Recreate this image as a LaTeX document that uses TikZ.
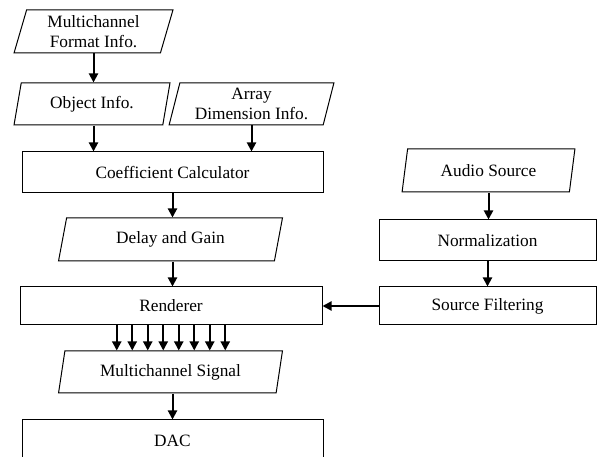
\documentclass[tikz,border=0pt]{standalone}
\usepackage{fontspec}
\setmainfont{Liberation Serif}
\usetikzlibrary{arrows.meta, positioning, shapes.geometric, calc}

\begin{document}
\begin{tikzpicture}[
            x=1pt, y=-1pt,
            base/.style={draw, line width=1pt, inner sep=0pt, align=center,
                font=\fontsize{17.3}{20}\selectfont},
            iobox/.style={base, trapezium, trapezium left angle=75,
                trapezium right angle=105, trapezium stretches=true},
            procbox/.style={base, rectangle},
            arrow/.style={-{Triangle[length=9pt, width=9pt]}, line width=2pt}
        ]
        \useasboundingbox (0,0) rectangle (598,457);
        \clip (0,0) rectangle (598,457);

        % --- left column ---
        \node[iobox, minimum width=159pt, minimum height=43pt] (mfi) at (93.5, 31.5) {Multichannel\\Format Info.};
        \node[iobox, minimum width=157pt, minimum height=42pt] (obj) at (92, 104) {Object Info.};
        \node[iobox, minimum width=165pt, minimum height=42pt] (arr) at (251.5, 104) {Array\\Dimension Info.};
        \node[procbox, minimum width=301pt, minimum height=41pt] (coef) at (172.5, 172.5) {Coefficient Calculator};
        \node[iobox, minimum width=224pt, minimum height=43pt] (delay) at (170.5, 239.5) {Delay and Gain};
        \node[procbox, minimum width=302pt, minimum height=38pt] (rend) at (171, 306) {Renderer};
        \node[iobox, minimum width=224pt, minimum height=42pt] (msig) at (170.5, 372) {Multichannel Signal};
        \node[procbox, minimum width=301pt, minimum height=41pt] (dac) at (172.5, 440.5) {DAC};

        % --- right column ---
        \node[iobox, minimum width=173pt, minimum height=43pt] (audio) at (488.5, 170.5) {Audio Source};
        \node[procbox, minimum width=217pt, minimum height=41pt] (norm) at (487.5, 240.5) {Normalization};
        \node[procbox, minimum width=217pt, minimum height=38pt] (filt) at (487.5, 306) {Source Filtering};

        % --- connectors ---
        \draw[arrow] (mfi.south) -- (mfi.south |- obj.north);
        \draw[arrow] (mfi.south |- obj.south) -- (mfi.south |- coef.north);
        \draw[arrow] (arr.south) -- (arr.south |- coef.north);
        \draw[arrow] (coef.south) -- (coef.south |- delay.north);
        \draw[arrow] (coef.south |- delay.south) -- (coef.south |- rend.north);
        \foreach \dx in {-54.25, -38.75, -23.25, -7.75, 7.75, 23.25, 38.75, 54.25}
            \draw[arrow] ([xshift=\dx pt]rend.south) -- ([xshift=\dx pt]rend.south |- msig.north);
        \draw[arrow] (coef.south |- msig.south) -- (coef.south |- dac.north);
        \draw[arrow] (audio.south) -- (audio.south |- norm.north);
        \draw[arrow] (norm.south) -- (filt.north);
        \draw[arrow] (filt.west) -- (rend.east);

        \end{tikzpicture}
\end{document}
